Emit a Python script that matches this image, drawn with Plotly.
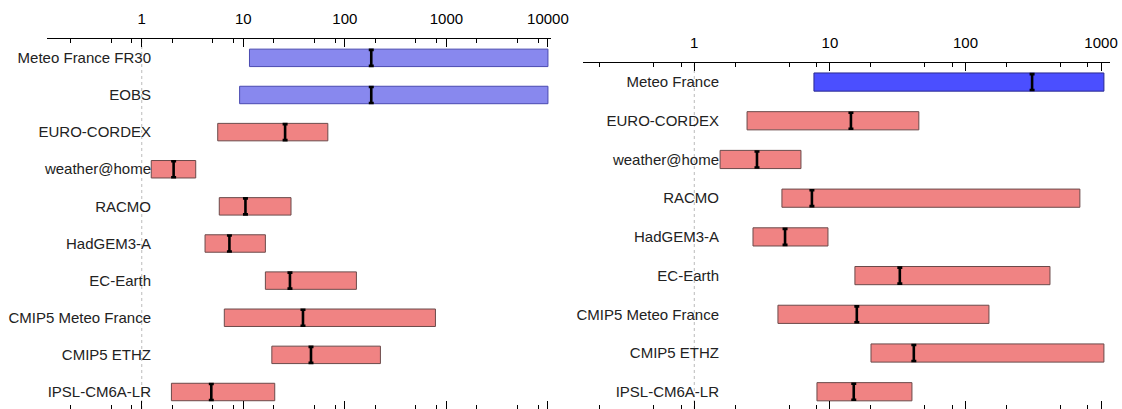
import plotly.graph_objects as go

# Left panel: observations (first two) and models
left_models = ["Meteo France FR30", "EOBS", "EURO-CORDEX", "weather@home", "RACMO",
               "HadGEM3-A", "EC-Earth", "CMIP5 Meteo France", "CMIP5 ETHZ", "IPSL-CM6A-LR"]
left_low = [11.5, 9.2, 5.6, 1.24, 5.8, 4.2, 16.5, 6.5, 19.1, 1.96]
left_high = [10000, 10000, 68, 3.4, 29.5, 16.5, 130, 780, 224, 20.4]
left_best = [182, 182, 25.8, 2.06, 10.5, 7.3, 28.8, 38.7, 46.4, 4.84]
left_is_obs = [True, True, False, False, False, False, False, False, False, False]

# Right panel
right_models = ["Meteo France", "EURO-CORDEX", "weather@home", "RACMO", "HadGEM3-A",
                "EC-Earth", "CMIP5 Meteo France", "CMIP5 ETHZ", "IPSL-CM6A-LR"]
right_low = [7.63, 2.45, 1.55, 4.43, 2.71, 15.3, 4.14, 20.1, 8.03]
right_high = [1050, 45.3, 6.12, 698, 9.68, 420, 149, 1050, 40.3]
right_best = [310, 14.3, 2.9, 7.37, 4.67, 32.8, 15.8, 41.6, 15.0]
right_is_obs = [True, False, False, False, False, False, False, False, False]

tick_vals = [1, 10, 100, 1000, 10000]
tick_text = ["1", "10", "100", "1000", "10000"]
minor_vals = [m * 10 ** k for k in range(-1, 4) for m in (2, 5, 8)]

FONT = "Liberation Sans, Arial, sans-serif"
RED_FILL, RED_EDGE = "#F08383", "#6b4a4a"
W = 1122
H = 409

fig = go.Figure()


def add_panel(models, low, high, best, is_obs, obs_fill, obs_edge, xa, ya, cap):
    idx = list(range(len(models)))
    fills = [obs_fill if o else RED_FILL for o in is_obs]
    edges = [obs_edge if o else RED_EDGE for o in is_obs]
    fig.add_trace(go.Bar(
        y=idx, x=[h - l for l, h in zip(low, high)], base=low, orientation="h",
        width=0.47, marker=dict(color=fills, line=dict(color=edges, width=1)),
        xaxis=xa, yaxis=ya, showlegend=False, hoverinfo="skip"))
    fig.add_trace(go.Scatter(
        y=idx, x=best, mode="markers", marker=dict(size=1, color="black", opacity=0),
        error_y=dict(type="constant", value=cap, thickness=2.6, width=2.5, color="black"),
        xaxis=xa, yaxis=ya, showlegend=False, hoverinfo="skip"))


add_panel(left_models, left_low, left_high, left_best, left_is_obs,
          "#8888EE", "#4a4ab0", "x", "y", 0.215)
add_panel(right_models, right_low, right_high, right_best, right_is_obs,
          "#4B4FFF", "#2a2a90", "x2", "y2", 0.206)

xcommon = dict(type="log", side="top", showline=True, linecolor="black", linewidth=1,
               mirror="ticks", ticks="inside", ticklen=8, tickcolor="black",
               tickvals=tick_vals, ticktext=tick_text, showgrid=False, zeroline=False,
               automargin=False,
               tickfont=dict(family=FONT, size=15, color="black"),
               minor=dict(tickmode="array", tickvals=minor_vals, ticks="inside",
                          ticklen=4, tickcolor="black", showgrid=False))

ycommon = dict(anchor="free", showline=False, showgrid=False, zeroline=False, ticks="",
               automargin=False, tickfont=dict(family=FONT, size=15, color="#222"))

fig.update_layout(
    width=W, height=H, autosize=False,
    margin=dict(l=0, r=0, t=0, b=0, pad=0, autoexpand=False),
    paper_bgcolor="white", plot_bgcolor="white", barmode="overlay",
    xaxis=dict(xcommon, domain=[46.7 / W, 551 / W], range=[-0.936, 4.03],
               anchor="y", ticklabelstandoff=8),
    xaxis2=dict(xcommon, domain=[582.7 / W, 1110 / W], range=[-0.823, 3.066],
                anchor="y2", ticklabelstandoff=8),
    yaxis=dict(ycommon, domain=[0, 1 - 39.3 / H], range=[9.458, -0.5], position=151 / W,
               tickvals=list(range(len(left_models))), ticktext=left_models),
    yaxis2=dict(ycommon, domain=[0, 1 - 62.7 / H], range=[8.446, -0.5], position=719 / W,
                tickvals=list(range(len(right_models))), ticktext=right_models),
)

# dotted reference line at a value of 1 in each panel
for xr, yr in (("x", "y"), ("x2", "y2")):
    fig.add_shape(type="line", xref=xr, yref=f"{yr} domain", x0=1, x1=1, y0=0, y1=1,
                  line=dict(color="#bbbbbb", width=1, dash="dot"), layer="below")

fig.write_html("out.html")
